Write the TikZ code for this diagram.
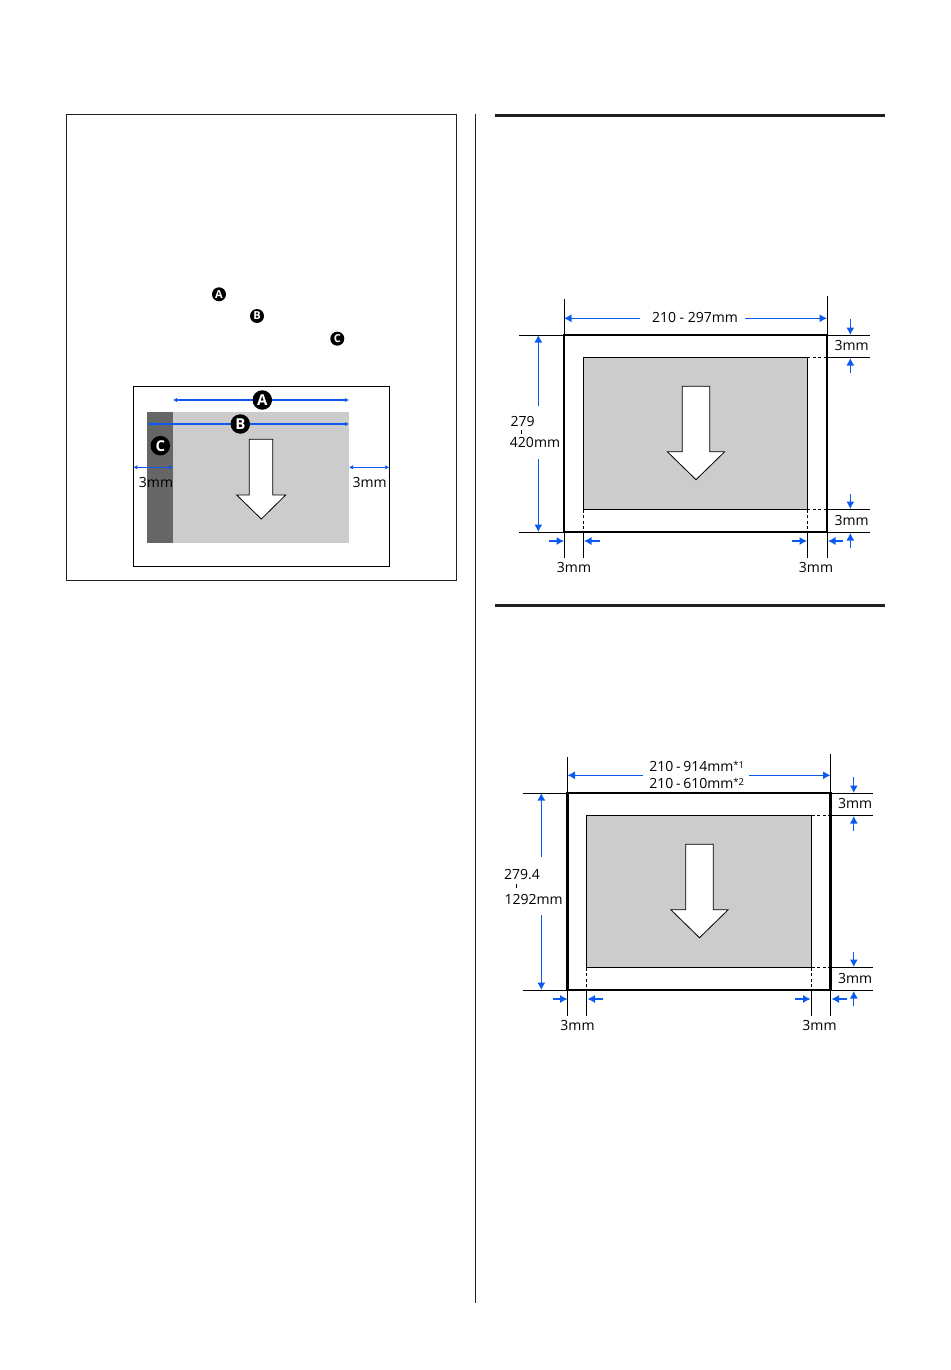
\documentclass[tikz,border=0pt]{standalone}
\usepackage{fontspec}
\setmainfont{Open Sans}
\usetikzlibrary{arrows.meta}
\definecolor{dimblue}{HTML}{0A5AF0}
\definecolor{rulegray}{HTML}{231F20}
\definecolor{printgray}{HTML}{CCCCCC}
\definecolor{stripgray}{HTML}{666666}
\newcommand{\starnote}[1]{\raisebox{3.5pt}{\fontsize{9.5}{9.5}\selectfont *#1}}
\tikzset{
  plainbox/.style={rectangle, inner sep=0pt, outer sep=0pt, anchor=north west},
  sheetbox/.style={plainbox, draw, line width=2.2pt},
  printbox/.style={plainbox, draw, line width=1pt, fill=printgray},
  extline/.style={line width=0.9pt},
  gapline/.style={line width=0.9pt, dash pattern=on 3pt off 2.5pt},
  dimarrow/.style={dimblue, line width=1.1pt, -{Latex[length=7.5pt,width=8pt]}},
  spanarrow/.style={dimblue, line width=1.5pt, {Latex[length=4pt,width=4.5pt]}-{Latex[length=4pt,width=4.5pt]}},
  dimlabel/.style={inner sep=0pt, font=\fontsize{14}{16.5}\selectfont},
  pagearrow/.style={draw=black, line width=0.8pt, fill=white, line join=miter},
  markbig/.style={circle, fill=black, text=white, inner sep=0pt, minimum size=19.5pt, font=\fontsize{15}{15}\bfseries\selectfont},
  marksmall/.style={circle, fill=black, text=white, inner sep=0pt, minimum size=14pt, font=\fontsize{11}{11}\bfseries\selectfont}
}
\begin{document}
\begin{tikzpicture}[x=1pt, y=-1pt]
\useasboundingbox (0,0) rectangle (950,1370);

% page rules
\coordinate (ruleAl) at (495,115.5);
\coordinate (ruleAr) at (885,115.5);
\coordinate (ruleBl) at (495,605);
\coordinate (ruleBr) at (885,605);
\coordinate (columnT) at (475.6,114);
\coordinate (columnB) at (475.6,1303);
\draw [rulegray, line width=3pt] (ruleAl) -- (ruleAr);
\draw [rulegray, line width=3pt] (ruleBl) -- (ruleBr);
\draw [rulegray, line width=1pt] (columnT) -- (columnB);

% note box
\node (panel) [plainbox, draw=rulegray, line width=1pt, minimum width=390.4pt, minimum height=465.8pt] at (66.4,114.5) {};
\node (markTextA) [marksmall] at (219,294.3) {A};
\node (markTextB) [marksmall] at (257,316) {B};
\node (markTextC) [marksmall] at (337.3,338.7) {C};

\node (inner) [plainbox, draw, line width=1pt, minimum width=256pt, minimum height=179.3pt] at (133.3,386.7) {};
\node (innerPrint) [plainbox, fill=printgray, minimum width=201.7pt, minimum height=131.3pt] at (147.3,411.7) {};
\node (innerStrip) [plainbox, fill=stripgray, minimum width=25.7pt, minimum height=131.3pt] at (147.3,411.7) {};
\draw [pagearrow] (249.3,439.3) -- (272.7,439.3) -- (272.7,495) -- (285.7,495) -- (261.3,519) -- (236.7,495) -- (249.3,495) -- cycle;

\coordinate (rowA) at (262.3,400);
\coordinate (rowB) at (240.3,424);
\coordinate (rowM) at (160,467.3);
\draw [spanarrow] (rowA -| innerStrip.east) -- (rowA -| innerPrint.east);
\draw [spanarrow] (rowB -| innerStrip.west) -- (rowB -| innerPrint.east);
\draw [spanarrow] (rowM -| inner.west) -- (rowM -| innerStrip.east);
\draw [spanarrow, line width=1pt] (rowM -| innerPrint.east) -- (rowM -| inner.east);
\node (markA) [markbig] at (rowA) {A};
\node (markB) [markbig] at (rowB) {B};
\node (markC) [markbig] at (160.3,445.7) {C};
\node (marginL) [dimlabel] at (156,482) {3mm};
\node (marginR) [dimlabel] at (369.7,482) {3mm};

% both sheets
\foreach \sh/\dx/\dy/\pw in {A/0/0/224, B/3.5/458/225} {
\begin{scope}[shift={(\dx,\dy)}]
\node (sheet\sh) [sheetbox, minimum width=263pt, minimum height=197pt] at (564,335) {};
\node (print\sh) [printbox, minimum width=\pw pt, minimum height=152.2pt] at (583.1,357.4) {};
\draw [pagearrow] (682.3,386.3) -- (709.7,386.3) -- (709.7,451.7) -- (724.7,451.7) -- (696,479.7) -- (667.3,451.7) -- (682.3,451.7) -- cycle;

\foreach \n/\src/\anc/\x/\y in {a/sheet/north west/564/299, b/sheet/north east/827/296, c/sheet/south west/564/558, d/sheet/south east/827/558, e/sheet/north west/519/335, f/sheet/south west/519/532, g/sheet/north east/869.5/335, h/sheet/south east/869.5/532} {
  \coordinate (ext\n\sh) at (\x,\y);
  \draw [extline] (\src\sh.\anc) -- (ext\n\sh);
}
\coordinate (extH\sh) at (869.5,400);
\coordinate (extV\sh) at (600,558);
\draw [gapline] (print\sh.north east) -- (print\sh.north east -| sheet\sh.east);
\draw [extline] (print\sh.north east -| sheet\sh.east) -- (print\sh.north east -| extH\sh);
\draw [gapline] (print\sh.south east) -- (print\sh.south east -| sheet\sh.east);
\draw [extline] (print\sh.south east -| sheet\sh.east) -- (print\sh.south east -| extH\sh);
\draw [gapline] (print\sh.south west) -- (print\sh.south west |- sheet\sh.south);
\draw [extline] (print\sh.south west |- sheet\sh.south) -- (print\sh.south west |- extV\sh);
\draw [gapline] (print\sh.south east) -- (print\sh.south east |- sheet\sh.south);
\draw [extline] (print\sh.south east |- sheet\sh.south) -- (print\sh.south east |- extV\sh);

\foreach \n/\xa/\ya/\xb/\yb in {a/850.3/319/850.3/335, b/850.3/373.3/850.3/358, c/850.3/494/850.3/509, d/850.3/548/850.3/533, e/549/541/564/541, f/599.5/541/584/541, g/791.7/541/807/541, h/843/541/828/541} {
  \coordinate (from\n\sh) at (\xa,\ya);
  \coordinate (to\n\sh) at (\xb,\yb);
  \draw [dimarrow] (from\n\sh) -- (to\n\sh);
}
\node (topgap\sh) [dimlabel] at (851.7,345) {3mm};
\node (botgap\sh) [dimlabel] at (851.7,520) {3mm};
\node (leftgap\sh) [dimlabel] at (574,567) {3mm};
\node (rightgap\sh) [dimlabel] at (816,567) {3mm};
\end{scope}
}

% first sheet labels
\node (widthA) [dimlabel] at (695,317) {210 - 297mm};
\coordinate (widthAl) at (640,318.3);
\coordinate (widthAr) at (745,318.3);
\draw [dimarrow] (widthAl) -- (widthAl -| sheetA.west);
\draw [dimarrow] (widthAr) -- (widthAr -| sheetA.east);
\node (heightAa) [dimlabel] at (522.7,421.7) {279};
\node (heightAb) [dimlabel] at (535,442.7) {420mm};
\coordinate (tickAt) at (521.7,430);
\coordinate (tickAb) at (521.7,433.5);
\draw [extline] (tickAt) -- (tickAb);
\coordinate (heightAt) at (538.3,405.7);
\coordinate (heightAd) at (538.3,459);
\draw [dimarrow] (heightAt) -- (heightAt |- sheetA.north);
\draw [dimarrow] (heightAd) -- (heightAd |- sheetA.south);

% second sheet labels
\node (widthB) [dimlabel] at (696.7,766.5) {210\hspace{0.2em}-\hspace{0.2em}914mm\starnote{1}};
\node (widthC) [dimlabel] at (696.7,783.5) {210\hspace{0.2em}-\hspace{0.2em}610mm\starnote{2}};
\coordinate (widthBl) at (642.7,775.3);
\coordinate (widthBr) at (748.7,775.3);
\draw [dimarrow] (widthBl) -- (widthBl -| sheetB.west);
\draw [dimarrow] (widthBr) -- (widthBr -| sheetB.east);
\node (heightBa) [dimlabel] at (522,874.7) {279.4};
\node (heightBb) [dimlabel] at (533.7,899) {1292mm};
\coordinate (tickBt) at (516.3,884);
\coordinate (tickBb) at (516.3,888);
\draw [extline] (tickBt) -- (tickBb);
\coordinate (heightBt) at (541.3,856.7);
\coordinate (heightBd) at (541.3,915);
\draw [dimarrow] (heightBt) -- (heightBt |- sheetB.north);
\draw [dimarrow] (heightBd) -- (heightBd |- sheetB.south);
\end{tikzpicture}
\end{document}
